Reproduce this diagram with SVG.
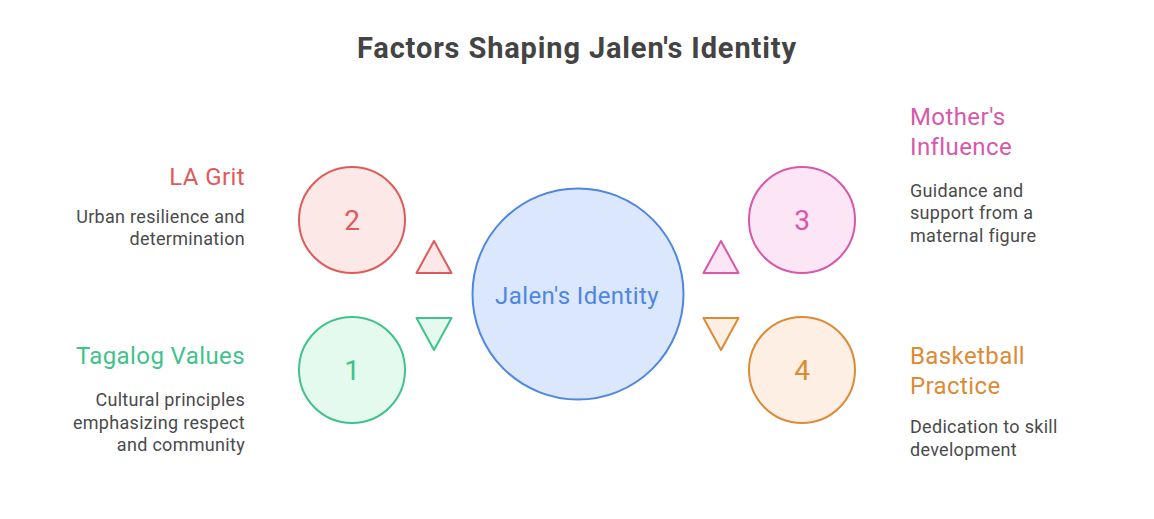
<svg xmlns="http://www.w3.org/2000/svg" width="1154" height="519" viewBox="0 0 1154 519">
<style>
text{font-family:Roboto,"Liberation Sans",sans-serif;}
.title{font-size:29px;font-weight:bold;fill:#444444;}
.head{font-size:24px;letter-spacing:0.4px;}
.desc{font-size:18px;fill:#4a4a4a;letter-spacing:0.3px;}
.num{font-size:28px;text-anchor:middle;}
.r{text-anchor:end;}
.sw{stroke-width:2;}
</style>
<rect width="1154" height="519" fill="#ffffff"/>
<text class="title" x="357" y="58" textLength="439" lengthAdjust="spacing">Factors Shaping Jalen's Identity</text>
<g id="connectors">
<polygon points="434,241 416.5,273 451.5,273" fill="#fde8e8" stroke="#e05a5a" class="sw" stroke-linejoin="round"/>
<polygon points="416.5,318 451.5,318 434,350" fill="#e4faef" stroke="#3fc38a" class="sw" stroke-linejoin="round"/>
<polygon points="721,241 703.5,273 738.5,273" fill="#fce6f5" stroke="#d957a8" class="sw" stroke-linejoin="round"/>
<polygon points="703.5,318 738.5,318 721,350" fill="#fdefe3" stroke="#dd8a35" class="sw" stroke-linejoin="round"/>
</g>
<g id="center">
<circle cx="578" cy="294" r="105.5" fill="#dbe7fc" stroke="#4f86e0" class="sw"/>
<text x="577" y="304" font-size="24" letter-spacing="0.4" text-anchor="middle" fill="#4f86e0">Jalen's Identity</text>
</g>
<g id="node2">
<circle cx="352" cy="220" r="53" fill="#fde8e8" stroke="#e05a5a" class="sw"/>
<text class="num" x="352" y="230" fill="#e05a5a">2</text>
<text class="head r" x="245" y="185" fill="#e05a5a">LA Grit</text>
<text class="desc r" x="245" y="223">Urban resilience and</text>
<text class="desc r" x="245" y="245">determination</text>
</g>
<g id="node1">
<circle cx="352" cy="370" r="53" fill="#e4faef" stroke="#3fc38a" class="sw"/>
<text class="num" x="352" y="380" fill="#3fc38a">1</text>
<text class="head r" x="245" y="364" fill="#3fc38a">Tagalog Values</text>
<text class="desc r" x="245" y="406">Cultural principles</text>
<text class="desc r" x="245" y="429">emphasizing respect</text>
<text class="desc r" x="245" y="451">and community</text>
</g>
<g id="node3">
<circle cx="802" cy="220" r="53" fill="#fce6f5" stroke="#d957a8" class="sw"/>
<text class="num" x="802" y="230" fill="#d957a8">3</text>
<text class="head" x="910" y="125" fill="#d957a8">Mother's</text>
<text class="head" x="910" y="155" fill="#d957a8">Influence</text>
<text class="desc" x="910" y="197">Guidance and</text>
<text class="desc" x="910" y="219">support from a</text>
<text class="desc" x="910" y="242">maternal figure</text>
</g>
<g id="node4">
<circle cx="802" cy="370" r="53" fill="#fdefe3" stroke="#dd8a35" class="sw"/>
<text class="num" x="802" y="380" fill="#dd8a35">4</text>
<text class="head" x="910" y="364" fill="#dd8a35">Basketball</text>
<text class="head" x="910" y="394" fill="#dd8a35">Practice</text>
<text class="desc" x="910" y="433">Dedication to skill</text>
<text class="desc" x="910" y="456">development</text>
</g>
</svg>
